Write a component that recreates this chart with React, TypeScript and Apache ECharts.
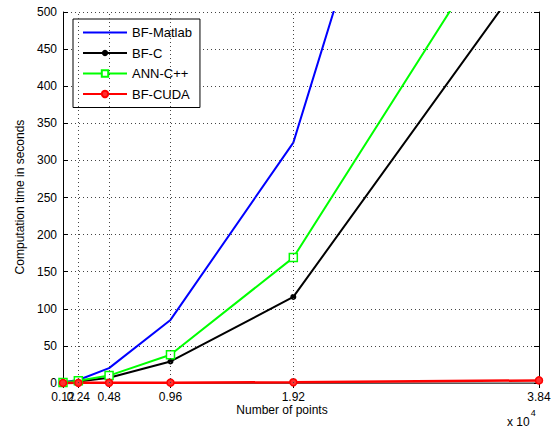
import React, { useEffect, useRef } from "react";
import * as echarts from "echarts";

const xValues = [0.12, 0.24, 0.48, 0.96, 1.92, 3.84];
const xTickLabels = ["0.12", "0.24", "0.48", "0.96", "1.92", "3.84"];
const gridXValues = [0.24, 0.48, 0.96, 1.92];
const bfMatlab = [1, 4, 20, 85, 324, 1400];
const bfC = [0.8, 2, 7, 29, 116, 575];
const annCpp = [0.8, 3, 10, 38, 169, 690];
const bfCuda = [0.1, 0.2, 0.3, 0.5, 1.0, 3.5];

const FONT = "Liberation Sans, Arial, sans-serif";

function pairs(ys: number[]) {
  return xValues.map((x, i) => [x, ys[i]]);
}

function tickLabel(v: number) {
  const i = xValues.findIndex((x) => Math.abs(x - v) < 1e-6);
  return i >= 0 ? xTickLabels[i] : "";
}

export default function App() {
  const ref = useRef<HTMLDivElement>(null);
  useEffect(() => {
    const chart = echarts.init(ref.current!, null, { renderer: "svg" });
    const dotted = { color: "#444", width: 1, type: [1, 3] as any };
    const labelStyle = {
      color: "#000",
      fontSize: 12,
      fontFamily: FONT,
      margin: 8,
      hideOverlap: false,
      showMinLabel: true,
      showMaxLabel: true,
      formatter: tickLabel,
    };
    const mainValues = xValues.filter((v) => v !== 0.24);
    chart.setOption({
      animation: false,
      backgroundColor: "#fff",
      textStyle: { fontFamily: FONT },
      grid: { left: 63, right: 17, top: 12, bottom: 47, containLabel: false },
      legend: {
        left: 73,
        top: 19,
        orient: "vertical",
        data: [
          { name: "BF-Matlab", itemStyle: { opacity: 0 } },
          { name: "BF-C" },
          { name: "ANN-C++" },
          { name: "BF-CUDA" },
        ],
        itemWidth: 44,
        itemHeight: 8,
        itemGap: 5.5,
        padding: [6, 8, 6, 9],
        borderColor: "#000",
        borderWidth: 1,
        borderRadius: 0,
        backgroundColor: "#fff",
        textStyle: { fontSize: 13, color: "#000", fontFamily: FONT, lineHeight: 15 },
      },
      xAxis: [
        {
          type: "value",
          min: 0.12,
          max: 3.84,
          position: "bottom",
          axisLine: { show: true, lineStyle: { color: "#000", width: 1 } },
          axisTick: { show: true, inside: true, length: 5, customValues: xValues, lineStyle: { color: "#000" } },
          axisLabel: { show: true, customValues: mainValues, ...labelStyle },
          splitLine: { show: false },
        },
        {
          type: "value",
          min: 0.12,
          max: 3.84,
          position: "top",
          axisLine: { show: true, lineStyle: { color: "#777", width: 1.5 } },
          axisTick: { show: true, inside: true, length: 5, customValues: xValues, lineStyle: { color: "#000" } },
          axisLabel: { show: false },
          splitLine: { show: false },
        },
        {
          type: "value",
          min: 0.12,
          max: 3.84,
          position: "bottom",
          offset: 0,
          axisLine: { show: false },
          axisTick: { show: false },
          axisLabel: { show: true, customValues: [0.24], ...labelStyle },
          splitLine: { show: false },
        },
      ],
      yAxis: [
        {
          type: "value",
          min: 0,
          max: 500,
          interval: 50,
          position: "left",
          axisLine: { show: true, lineStyle: { color: "#000", width: 1 } },
          axisTick: { show: true, inside: true, length: 5, lineStyle: { color: "#000" } },
          axisLabel: { color: "#000", fontSize: 12, fontFamily: FONT, margin: 6 },
          splitLine: { show: true, lineStyle: dotted },
        },
        {
          type: "value",
          min: 0,
          max: 500,
          interval: 50,
          position: "right",
          axisLine: { show: true, lineStyle: { color: "#000", width: 1 } },
          axisTick: { show: true, inside: true, length: 5, lineStyle: { color: "#000" } },
          axisLabel: { show: false },
          splitLine: { show: false },
        },
      ],
      series: [
        {
          name: "gridlines",
          type: "line",
          data: [],
          silent: true,
          markLine: {
            silent: true,
            symbol: "none",
            label: { show: false },
            lineStyle: dotted,
            data: gridXValues.map((v) => ({ xAxis: v })),
          },
        },
        {
          name: "BF-Matlab",
          type: "line",
          data: pairs(bfMatlab),
          symbol: "none",
          color: "#0000ff",
          lineStyle: { color: "#0000ff", width: 2 },
          clip: true,
        },
        {
          name: "BF-C",
          type: "line",
          data: pairs(bfC),
          symbol: "circle",
          symbolSize: 6,
          color: "#000",
          itemStyle: { color: "#000" },
          lineStyle: { color: "#000", width: 2 },
          clip: true,
        },
        {
          name: "ANN-C++",
          type: "line",
          data: pairs(annCpp),
          symbol: "rect",
          symbolSize: 8,
          color: "#00ff00",
          itemStyle: { color: "#fff", borderColor: "#00ff00", borderWidth: 1.5 },
          lineStyle: { color: "#00ff00", width: 2 },
          clip: true,
        },
        {
          name: "BF-CUDA",
          type: "line",
          data: pairs(bfCuda),
          symbol: "circle",
          symbolSize: 7,
          color: "#ff0000",
          itemStyle: { color: "#ff3030", borderColor: "#ff0000", borderWidth: 1.5 },
          lineStyle: { color: "#ff0000", width: 2.5 },
          clip: false,
        },
      ],
      graphic: [
        {
          type: "text",
          x: 282,
          y: 410,
          style: { text: "Number of points", fontSize: 12, fontFamily: FONT, fill: "#000", align: "center", verticalAlign: "middle" },
        },
        {
          type: "text",
          x: 20,
          y: 197,
          rotation: Math.PI / 2,
          style: { text: "Computation time in seconds", fontSize: 12, fontFamily: FONT, fill: "#000", align: "center", verticalAlign: "middle" },
        },
        {
          type: "text",
          x: 507,
          y: 408,
          style: {
            text: "{a|x 10}{b|4}",
            fontFamily: FONT,
            fill: "#000",
            rich: {
              a: { fontSize: 12, fontFamily: FONT, fill: "#000", verticalAlign: "bottom", padding: [8, 1, 0, 0] },
              b: { fontSize: 9, fontFamily: FONT, fill: "#000", verticalAlign: "top", padding: [0, 0, 6, 0] },
            },
          },
        },
      ],
    });
    return () => chart.dispose();
  }, []);
  return <div ref={ref} style={{ position: "fixed", left: 0, top: 0, width: 556, height: 430 }} />;
}
